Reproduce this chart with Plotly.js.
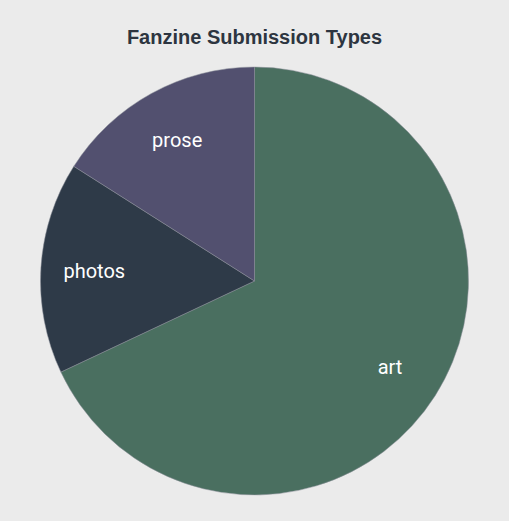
<!DOCTYPE html>
<html><head><meta charset="utf-8">
<script src="https://cdn.plot.ly/plotly-3.0.1.min.js"></script>
<style>html,body{margin:0;padding:0;background:#ebebeb;}#chart{width:509px;height:521px;}</style>
</head><body><div id="chart"></div>
<script>
var categories = ["art", "photos", "prose"];
var counts = [17, 4, 4];
var sliceColors = ["#4a6f60", "#2e3a48", "#52506f"];

var fill = {
  type: 'pie',
  labels: categories,
  values: counts,
  sort: false,
  direction: 'clockwise',
  rotation: 0,
  textinfo: 'none',
  marker: {colors: sliceColors, line: {color: '#8a8f98', width: 0.5}},
  hoverinfo: 'label+percent',
  showlegend: false
};
var labelRing = {
  type: 'pie',
  labels: categories,
  values: counts,
  sort: false,
  direction: 'clockwise',
  rotation: 0,
  hole: 0.5,
  textinfo: 'label',
  textposition: 'inside',
  insidetextorientation: 'horizontal',
  insidetextfont: {family: 'Roboto', size: 20, color: '#ffffff'},
  marker: {colors: ['rgba(0,0,0,0)', 'rgba(0,0,0,0)', 'rgba(0,0,0,0)'], line: {width: 0}},
  hoverinfo: 'skip',
  showlegend: false
};

Plotly.newPlot('chart', [fill, labelRing], {
  width: 509, height: 521,
  paper_bgcolor: '#ebebeb', plot_bgcolor: '#ebebeb',
  title: {text: 'Fanzine Submission Types', font: {family: 'Liberation Sans', size: 20, color: '#2d3540', weight: 'bold'}, x: 0.5, xanchor: 'center', y: 0.929, yanchor: 'middle'},
  margin: {t: 67, b: 26, l: 40, r: 40},
  showlegend: false
}, {displayModeBar: false});
</script></body></html>
